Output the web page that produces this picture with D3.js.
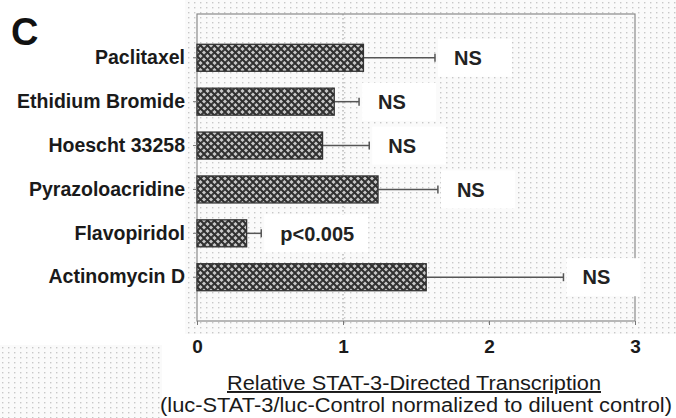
<!DOCTYPE html>
<html>
<head>
<meta charset="utf-8">
<script src="https://cdn.jsdelivr.net/npm/d3@7"></script>
<style>
  body { margin: 0; background: #fff; }
  svg { display: block; font-family: "Liberation Sans", Arial, sans-serif; }
</style>
</head>
<body>
<div id="chart"></div>
<script>
// data
var drugs = ["Paclitaxel", "Ethidium Bromide", "Hoescht 33258", "Pyrazoloacridine", "Flavopiridol", "Actinomycin D"];
var means = [1.14, 0.94, 0.86, 1.24, 0.34, 1.57];
var errTops = [1.63, 1.11, 1.18, 1.65, 0.44, 2.51];
var notes = ["NS", "NS", "NS", "NS", "p<0.005", "NS"];
var xTicks = [0, 1, 2, 3];

var W = 676, H = 418;
var margin = { top: 14, right: 41, bottom: 97, left: 197 },
  width = W - margin.left - margin.right,
  height = H - margin.top - margin.bottom;

var svg = d3.select("#chart").append("svg")
  .attr("width", W).attr("height", H);

var defs = svg.append("defs");

// halftone stipple background
var dots = defs.append("pattern").attr("id", "dots")
  .attr("patternUnits", "userSpaceOnUse").attr("width", 6).attr("height", 5);
dots.append("rect").attr("width", 6).attr("height", 5).attr("fill", "#fafafa");
dots.append("rect").attr("x", 2).attr("y", 2).attr("width", 1.4).attr("height", 1.4).attr("fill", "#c8c8c8");

// crosshatch for bars
var hatch = defs.append("pattern").attr("id", "hatch")
  .attr("patternUnits", "userSpaceOnUse").attr("width", 7).attr("height", 7);
hatch.append("rect").attr("width", 7).attr("height", 7).attr("fill", "#c8c8c8");
hatch.append("path").attr("d", "M-1,8 L8,-1 M-1,1 L1,-1 M6,8 L8,6")
  .attr("stroke", "#3a3a3a").attr("stroke-width", 2);
hatch.append("path").attr("d", "M-1,-1 L8,8 M6,-1 L8,1 M-1,6 L1,8")
  .attr("stroke", "#2e2e2e").attr("stroke-width", 2);

svg.append("rect").attr("x", 185).attr("y", 0).attr("width", W - 185).attr("height", 334)
  .attr("fill", "url(#dots)");
svg.append("rect").attr("x", 0).attr("y", 345).attr("width", 162).attr("height", H - 345)
  .attr("fill", "url(#dots)");

var g = svg.append("g").attr("transform", "translate(" + margin.left + "," + margin.top + ")");

var x = d3.scaleLinear().domain([0, 3]).range([0, width]);
var y = d3.scaleBand().domain(drugs).range([0, height]).paddingInner(0.385).paddingOuter(0.69);

// reference line at 1
g.append("line")
  .attr("x1", x(1)).attr("x2", x(1)).attr("y1", 0).attr("y2", height)
  .attr("stroke", "#999").attr("stroke-dasharray", "1.5,2.5");

// plot frame
g.append("rect").attr("width", width).attr("height", height)
  .attr("fill", "none").attr("stroke", "#8a8a8a").attr("stroke-width", 1.2);

// error whiskers (upper only)
var rows = drugs.map(function (d, i) { return { name: d, v: means[i], hi: errTops[i], note: notes[i] }; });

g.selectAll(".whisker").data(rows).enter().append("line")
  .attr("x1", function (d) { return x(d.v); })
  .attr("x2", function (d) { return x(d.hi); })
  .attr("y1", function (d) { return y(d.name) + y.bandwidth() / 2; })
  .attr("y2", function (d) { return y(d.name) + y.bandwidth() / 2; })
  .attr("stroke", "#555").attr("stroke-width", 1.5);
g.selectAll(".cap").data(rows).enter().append("line")
  .attr("x1", function (d) { return x(d.hi); })
  .attr("x2", function (d) { return x(d.hi); })
  .attr("y1", function (d) { return y(d.name) + y.bandwidth() / 2 - 4; })
  .attr("y2", function (d) { return y(d.name) + y.bandwidth() / 2 + 4; })
  .attr("stroke", "#555").attr("stroke-width", 1.5);

// bars
g.selectAll(".bar").data(rows).enter().append("rect")
  .attr("x", 0)
  .attr("y", function (d) { return y(d.name); })
  .attr("width", function (d) { return x(d.v); })
  .attr("height", y.bandwidth())
  .attr("fill", "url(#hatch)")
  .attr("stroke", "#333").attr("stroke-width", 1.3);

// significance labels on white boxes
var notesG = g.selectAll(".note").data(rows).enter().append("g")
  .attr("transform", function (d) {
    return "translate(" + (x(d.hi) + 19) + "," + (y(d.name) + y.bandwidth() / 2) + ")";
  });
notesG.append("rect")
  .attr("x", -16).attr("y", -19)
  .attr("width", function (d) { return d.note === "NS" ? 74 : 104; })
  .attr("height", 38).attr("fill", "#fff");
notesG.append("text")
  .attr("dy", "0.36em")
  .attr("font-size", 20).attr("font-weight", "bold").attr("fill", "#222")
  .text(function (d) { return d.note; });

// y axis labels + small ticks
var yAxis = g.append("g").call(d3.axisLeft(y).tickSize(4).tickPadding(8));
yAxis.select(".domain").remove();
yAxis.selectAll(".tick line").attr("stroke", "#777");
yAxis.selectAll(".tick text")
  .attr("font-size", 19.5).attr("font-weight", "bold").attr("fill", "#1a1a1a")
  .attr("font-family", "Liberation Sans, Arial, sans-serif");

// x axis
var xAxis = g.append("g").attr("transform", "translate(0," + height + ")")
  .call(d3.axisBottom(x).tickValues(xTicks).tickFormat(d3.format("d")).tickSize(4).tickPadding(15));
xAxis.select(".domain").remove();
xAxis.selectAll(".tick line").attr("stroke", "#777");
xAxis.selectAll(".tick text")
  .attr("font-size", 19).attr("font-weight", "bold").attr("fill", "#1a1a1a")
  .attr("font-family", "Liberation Sans, Arial, sans-serif");

// axis title (wide face in the original, so stretch to its measured width)
svg.append("text")
  .attr("x", 227).attr("y", 390)
  .attr("textLength", 374).attr("lengthAdjust", "spacingAndGlyphs")
  .attr("font-size", 19.5).attr("fill", "#1a1a1a").attr("text-decoration", "underline")
  .text("Relative STAT-3-Directed Transcription");
svg.append("text")
  .attr("x", 160).attr("y", 412)
  .attr("textLength", 512).attr("lengthAdjust", "spacingAndGlyphs")
  .attr("font-size", 19.5).attr("fill", "#1a1a1a")
  .text("(luc-STAT-3/luc-Control normalized to diluent control)");

// panel letter
svg.append("text")
  .attr("x", 11).attr("y", 45)
  .attr("font-size", 38).attr("font-weight", "bold").attr("fill", "#111")
  .text("C");
</script>
</body>
</html>
